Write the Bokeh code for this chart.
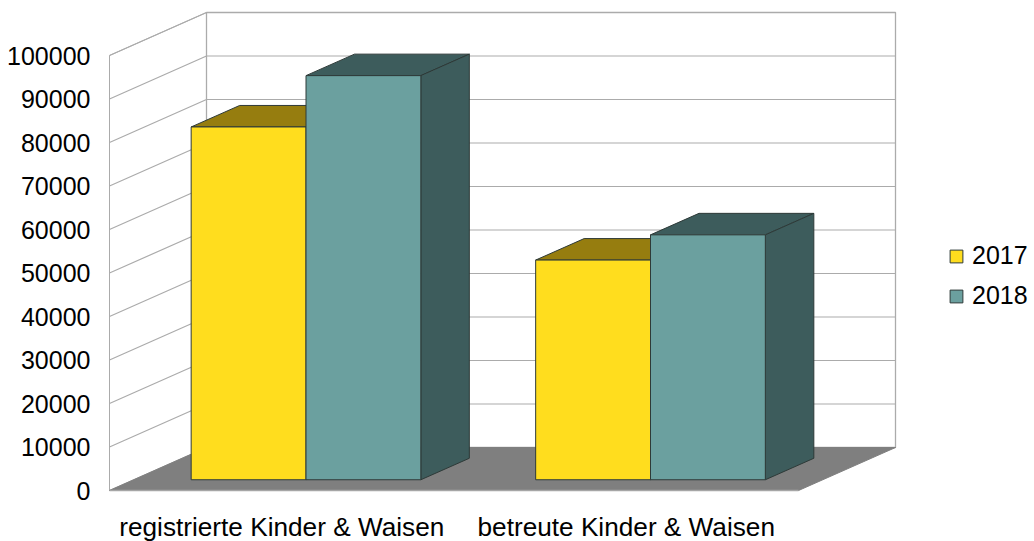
from bokeh.plotting import figure
from bokeh.models import FixedTicker, Legend, LegendItem, Range1d
from bokeh.embed import file_html
from bokeh.resources import INLINE

categories = ["registrierte Kinder & Waisen", "betreute Kinder & Waisen"]
series_names = ["2017", "2018"]
values_2017 = [81100, 50500]
values_2018 = [92900, 56300]
y_ticks = [0, 10000, 20000, 30000, 40000, 50000, 60000, 70000, 80000, 90000, 100000]

FONT = "Liberation Sans"
FS = "25px"
FS_CAT = "26.2px"
PX_PER_CAT = 344.5
PX_PER_VAL = 435 / 100000
DEPTH_X = 97 / PX_PER_CAT      # full floor depth in x units
DEPTH_Y = 43 / PX_PER_VAL      # full floor depth in value units
X_MAX = 2 + DEPTH_X
Y_MAX = 100000 + DEPTH_Y
PADX = 2 / PX_PER_CAT
PADY = 2 / PX_PER_VAL


def pr(x, v, d):
    """Oblique projection: category x, value v, depth fraction d."""
    return x + d * DEPTH_X, v + d * DEPTH_Y


p = figure(frame_width=790, frame_height=482, output_backend="svg", toolbar_location=None,
           x_range=Range1d(-PADX, X_MAX + PADX), y_range=Range1d(-PADY, Y_MAX + PADY),
           min_border_left=107, min_border_right=0, min_border_top=10, min_border_bottom=41,
           background_fill_color="white", border_fill_color="white")
p.outline_line_color = None
p.xgrid.visible = False
p.ygrid.visible = False

GRID = "#ABABAB"
xs, ys = zip(*[pr(0, 0, 1), pr(2, 0, 1), pr(2, 100000, 1), pr(0, 100000, 1), pr(0, 0, 1)])
p.line(list(xs), list(ys), line_color=GRID, line_width=1.3)
xs, ys = zip(*[pr(0, 0, 0), pr(0, 100000, 0), pr(0, 100000, 1)])
p.line(list(xs), list(ys), line_color=GRID, line_width=1)
for t in y_ticks:
    a = pr(0, t, 0); b = pr(0, t, 1); c = pr(2, t, 1)
    p.line([a[0], b[0], c[0]], [a[1], b[1], c[1]], line_color=GRID, line_width=1.2)

fl = [pr(0, 0, 0), pr(2, 0, 0), pr(2, 0, 1), pr(0, 0, 1)]
p.patch([q[0] for q in fl], [q[1] for q in fl], fill_color="#7F7F7F", line_color="#7F7F7F", line_width=1)
p.line([0, 2], [0, 0], line_color="#A6A6A6", line_width=1.6)

front_colors = ["#FFDD1E", "#6BA09F"]
top_colors = ["#967D0F", "#3D5C5C"]
side_colors = ["#967D0F", "#3D5C5C"]
edge = "#2E3A38"
BW = 1 / 3
GAP = (1 - 2 * BW) / 2
D0, D1 = 0.25, 0.75

front_renderers = [None, None]
for c in range(2):
    for s, vals in enumerate([values_2017, values_2018]):
        v = vals[c]
        x0 = c + GAP + s * BW
        x1 = x0 + BW
        top = [pr(x0, v, D0), pr(x1, v, D0), pr(x1, v, D1), pr(x0, v, D1)]
        side = [pr(x1, 0, D0), pr(x1, 0, D1), pr(x1, v, D1), pr(x1, v, D0)]
        p.patch([q[0] for q in top], [q[1] for q in top], fill_color=top_colors[s], line_color=edge, line_width=1)
        p.patch([q[0] for q in side], [q[1] for q in side], fill_color=side_colors[s], line_color=edge, line_width=1)
        f0 = pr(x0, 0, D0); f1 = pr(x1, v, D0)
        r = p.quad(left=[f0[0]], right=[f1[0]], bottom=[f0[1]], top=[f1[1]],
                   fill_color=front_colors[s], line_color=edge, line_width=1)
        front_renderers[s] = r

p.yaxis.ticker = FixedTicker(ticks=y_ticks)
p.yaxis.axis_line_color = None
p.yaxis.major_tick_line_color = None
p.yaxis.minor_tick_line_color = None
p.yaxis.major_tick_out = 0
p.yaxis.major_tick_in = 0
p.yaxis.major_label_text_font = FONT
p.yaxis.major_label_text_font_size = FS
p.yaxis.major_label_text_color = "#000000"
p.yaxis.major_label_standoff = 17
p.yaxis.formatter.use_scientific = False

p.xaxis.ticker = FixedTicker(ticks=[0.5, 1.5])
p.xaxis.major_label_overrides = {0.5: categories[0], 1.5: categories[1]}
p.xaxis.axis_line_color = None
p.xaxis.major_tick_line_color = None
p.xaxis.minor_tick_line_color = None
p.xaxis.major_tick_out = 0
p.xaxis.major_tick_in = 0
p.xaxis.major_label_text_font = FONT
p.xaxis.major_label_text_font_size = FS_CAT
p.xaxis.major_label_text_color = "#000000"
p.xaxis.major_label_standoff = 19

legend = Legend(items=[LegendItem(label=series_names[i], renderers=[front_renderers[i]]) for i in range(2)],
                location=(51, 182), orientation="vertical",
                background_fill_alpha=0, border_line_color=None,
                glyph_width=16, glyph_height=16, label_standoff=8,
                spacing=11, padding=14, margin=0,
                label_text_font=FONT, label_text_font_size=FS, label_text_color="#000000")
p.add_layout(legend, "right")

open("out.html", "w").write(file_html(p, INLINE))
